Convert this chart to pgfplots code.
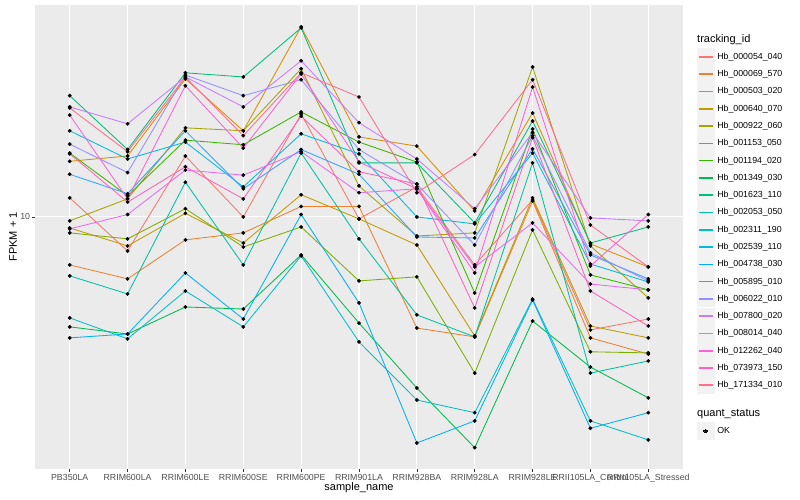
\documentclass[border=0pt]{standalone}
\usepackage{fontspec}
\setmainfont{Liberation Sans}
\usepackage{pgfplots}
\usepackage{pgfplotstable}
\pgfplotsset{compat=1.18}

\definecolor{hue1}{HTML}{F8766D}
\definecolor{hue2}{HTML}{EA8331}
\definecolor{hue3}{HTML}{D89000}
\definecolor{hue4}{HTML}{C09B00}
\definecolor{hue5}{HTML}{A3A500}
\definecolor{hue6}{HTML}{7CAE00}
\definecolor{hue7}{HTML}{39B600}
\definecolor{hue8}{HTML}{00BB4E}
\definecolor{hue9}{HTML}{00BF7D}
\definecolor{hue10}{HTML}{00C1A3}
\definecolor{hue11}{HTML}{00BFC4}
\definecolor{hue12}{HTML}{00BAE0}
\definecolor{hue13}{HTML}{00B0F6}
\definecolor{hue14}{HTML}{35A2FF}
\definecolor{hue15}{HTML}{9590FF}
\definecolor{hue16}{HTML}{C77CFF}
\definecolor{hue17}{HTML}{E76BF3}
\definecolor{hue18}{HTML}{FA62DB}
\definecolor{hue19}{HTML}{FF62BC}
\definecolor{hue20}{HTML}{FF6C91}
\definecolor{panel}{HTML}{EBEBEB}
\definecolor{keybg}{HTML}{F2F2F2}
\definecolor{tickgray}{HTML}{333333}
\definecolor{labelgray}{HTML}{4D4D4D}

% legend keys: grey box with the series' line
\pgfplotsset{
  keyline/.style={legend image code/.code={%
    \fill[keybg, line width=0pt] (0pt,-8.1pt) rectangle (17.28pt,8.1pt);
    \draw[##1] (1.7pt,0pt) -- (15.5pt,0pt);}},
  keydot/.style={legend image code/.code={%
    \fill[keybg, line width=0pt] (0pt,-8.1pt) rectangle (17.28pt,8.1pt);
    \fill[black, line width=0pt] (8.64pt,0pt) circle (1.7pt);}},
}

% FPKM + 1 per sample (x = sample index), one column per tracking_id
\pgfplotstableread{
x  L1   L2   L3   L4   L5   L6   L7   L8   L9   L10  L11  L12  L13  L14  L15  L16  L17  L18  L19  L20
0  11.7 6.74 15.8 9.13 9.68 8.77 16.9 4.05 27.1 6.16 4.36 20.3 3.70 14.2 18.2 24.7 9.06 23.1 16.8 24.5
1  7.56 6.01 16.5 7.88 11.6 8.35 11.9 3.82 17.4 5.31 3.67 16.1 3.82 12.1 14.4 21.5 10.2 11.6 11.3 17.1
2  16.5 8.28 31.1 10.3 20.8 10.7 18.8 4.77 32.7 13.3 5.44 18.5 6.31 20.3 32.1 31.6 14.7 29.4 15.1 31.6
3  10.0 8.77 20.3 8.07 20.3 7.81 18.1 4.69 31.6 6.74 4.05 12.8 4.32 12.6 27.1 24.7 14.1 17.6 11.6 19.5
4  23.3 10.9 47.7 12.0 33.8 9.21 23.7 7.32 47.3 16.9 7.26 19.8 10.2 17.4 30.9 36.1 17.1 32.4 22.9 32.7
5  9.84 10.9 19.3 9.84 12.9 5.91 18.5 4.18 15.6 8.35 3.58 16.8 4.93 14.2 17.4 21.7 12.2 15.7 14.5 26.8
6  12.8 4.01 17.9 7.94 8.55 6.11 15.7 2.45 15.6 4.47 2.22 10.0 1.56 8.48 13.1 16.1 12.6 12.6 13.1 12.2
7  6.74 3.73 10.5 3.76 8.77 2.77 5.35 1.50 9.52 3.73 2.00 9.44 1.87 8.41 7.94 10.7 6.63 6.31 4.73 16.7
8  11.5 11.4 23.5 11.7 34.3 8.99 20.6 4.25 22.0 15.6 5.09 16.9 5.05 17.5 19.5 20.0 9.52 29.1 19.2 30.9
9  3.95 3.70 8.01 4.08 7.88 3.30 6.21 2.91 8.07 2.77 1.87 6.79 1.76 7.32 7.44 9.92 5.76 6.68 5.44 9.36
10 4.32 3.24 6.63 3.70 5.14 3.27 5.49 2.26 9.21 3.06 1.60 5.86 2.00 6.01 5.91 9.68 5.49 10.2 4.08 6.63
}\data

\begin{document}
\begin{tikzpicture}
\path[use as bounding box] (0,0) rectangle (800pt,500pt);
\begin{axis}[
  at={(35pt,31pt)}, anchor=south west,
  scale only axis, width=648pt, height=464pt,
  xmin=-0.6, xmax=10.6,
  ymode=log, ymin=1.259, ymax=57.1,
  axis background/.style={fill=panel},
  axis line style={draw=none},
  xtick={0,...,10},
  xticklabels={PB350LA,RRIM600LA,RRIM600LE,RRIM600SE,RRIM600PE,RRIM901LA,RRIM928BA,RRIM928LA,RRIM928LE,RRII105LA\_Control,RRII105LA\_Stressed},
  ytick={10}, yticklabels={10},
  yminorticks=false, xminorticks=false,
  tick align=outside, major tick length=2.75pt,
  tick style={color=tickgray, line width=0.5pt},
  xtick pos=bottom, ytick pos=left,
  xmajorgrids=true, ymajorgrids=true,
  major grid style={white, line width=1.1pt},
  ticklabel style={font=\fontsize{8.8}{10}\selectfont, text=labelgray},
  xticklabel style={inner sep=0pt, anchor=north, yshift=-2pt},
  yticklabel style={inner sep=0pt, anchor=east, xshift=-2pt},
  xlabel={sample\_name}, ylabel={FPKM + 1},
  label style={font=\fontsize{11}{13}\selectfont},
  xlabel style={at={(axis description cs:0.5,-0.041)}, anchor=center},
  ylabel style={at={(axis description cs:-0.034,0.5)}, anchor=center},
  legend style={at={(1.0216,0.9055)}, anchor=north west, draw=none, fill=none,
    inner sep=0pt, outer sep=0pt, row sep=1.08pt, column sep=3pt,
    font=\fontsize{8.8}{10}\selectfont, nodes={inner sep=0pt}},
  legend cell align=left,
  keyline,
]
\pgfplotsinvokeforeach{1,...,20}{
  \addplot[color=hue#1, line width=0.85pt, mark=none, forget plot] table[x=x, y=L#1] {\data};
}
\pgfplotsinvokeforeach{1,...,20}{
  \addplot[only marks, mark=*, mark size=1.7pt, black, forget plot] table[x=x, y=L#1] {\data};
}
\addlegendimage{draw=hue1, line width=1.6pt}\addlegendentry{Hb\_000054\_040}
\addlegendimage{draw=hue2, line width=1.6pt}\addlegendentry{Hb\_000069\_570}
\addlegendimage{draw=hue3, line width=1.6pt}\addlegendentry{Hb\_000503\_020}
\addlegendimage{draw=hue4, line width=1.6pt}\addlegendentry{Hb\_000640\_070}
\addlegendimage{draw=hue5, line width=1.6pt}\addlegendentry{Hb\_000922\_060}
\addlegendimage{draw=hue6, line width=1.6pt}\addlegendentry{Hb\_001153\_050}
\addlegendimage{draw=hue7, line width=1.6pt}\addlegendentry{Hb\_001194\_020}
\addlegendimage{draw=hue8, line width=1.6pt}\addlegendentry{Hb\_001349\_030}
\addlegendimage{draw=hue9, line width=1.6pt}\addlegendentry{Hb\_001623\_110}
\addlegendimage{draw=hue10, line width=1.6pt}\addlegendentry{Hb\_002053\_050}
\addlegendimage{draw=hue11, line width=1.6pt}\addlegendentry{Hb\_002311\_190}
\addlegendimage{draw=hue12, line width=1.6pt}\addlegendentry{Hb\_002539\_110}
\addlegendimage{draw=hue13, line width=1.6pt}\addlegendentry{Hb\_004738\_030}
\addlegendimage{draw=hue14, line width=1.6pt}\addlegendentry{Hb\_005895\_010}
\addlegendimage{draw=hue15, line width=1.6pt}\addlegendentry{Hb\_006022\_010}
\addlegendimage{draw=hue16, line width=1.6pt}\addlegendentry{Hb\_007800\_020}
\addlegendimage{draw=hue17, line width=1.6pt}\addlegendentry{Hb\_008014\_040}
\addlegendimage{draw=hue18, line width=1.6pt}\addlegendentry{Hb\_012262\_040}
\addlegendimage{draw=hue19, line width=1.6pt}\addlegendentry{Hb\_073973\_150}
\addlegendimage{draw=hue20, line width=1.6pt}\addlegendentry{Hb\_171334\_010}
\end{axis}
% second legend: quant_status
\begin{axis}[
  at={(35pt,31pt)}, anchor=south west,
  scale only axis, width=648pt, height=464pt,
  hide axis, xmin=0, xmax=1, ymin=0, ymax=1,
  legend style={at={(1.0216,0.0994)}, anchor=north west, draw=none, fill=none,
    inner sep=0pt, outer sep=0pt, column sep=3pt,
    font=\fontsize{8.8}{10}\selectfont, nodes={inner sep=0pt}},
  legend cell align=left,
  keydot,
]
\addlegendimage{black}
\addlegendentry{OK}
\end{axis}
\node[anchor=west, inner sep=0pt, font=\fontsize{11}{13}\selectfont] at (697pt,460pt) {tracking\_id};
\node[anchor=west, inner sep=0pt, font=\fontsize{11}{13}\selectfont] at (697pt,86pt) {quant\_status};
\end{tikzpicture}
\end{document}
